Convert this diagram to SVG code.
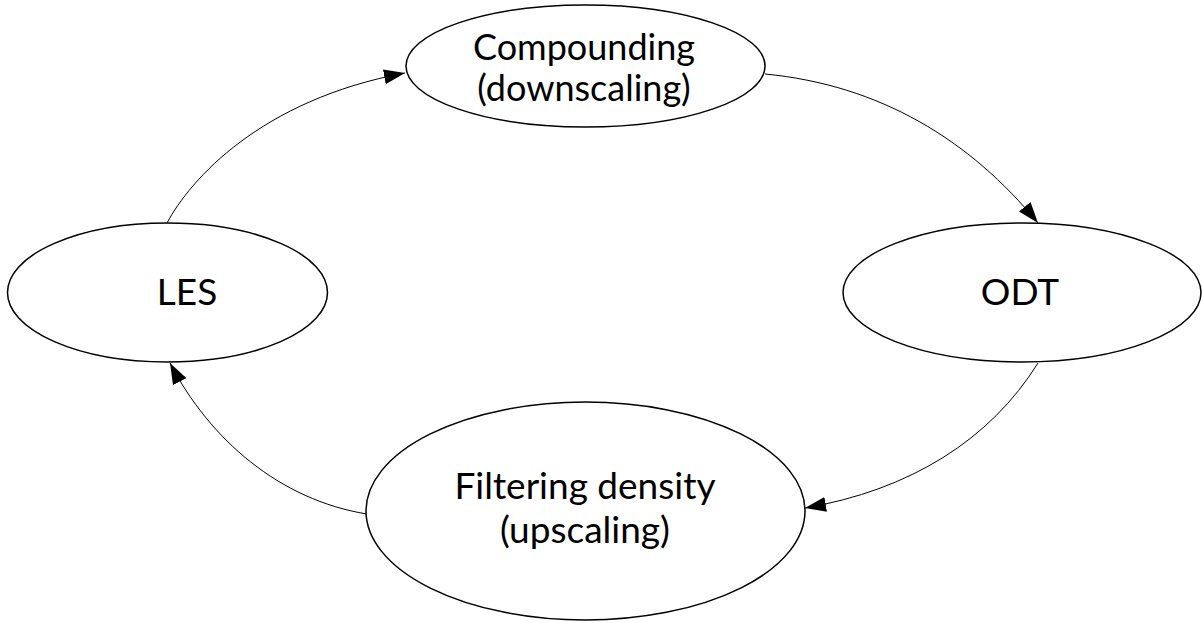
<svg xmlns="http://www.w3.org/2000/svg" width="1202" height="623" viewBox="0 0 1202 623">
  <style>
    .node ellipse { fill: #ffffff; stroke: #000000; stroke-width: 1.5; }
    .node text { font-family: Lato, "Open Sans", "Liberation Sans", sans-serif; font-size: 37px; fill: #000000; text-anchor: middle; }
    #node-compounding text { font-size: 36px; }
    .edge { fill: none; stroke: #000000; stroke-width: 1; marker-end: url(#arrow); }
  </style>
  <defs>
    <marker id="arrow" markerUnits="userSpaceOnUse" markerWidth="21" markerHeight="15" refX="21" refY="7.5" orient="auto" viewBox="0 0 21 15">
      <path d="M0,0 L21,7.5 L0,15 Z" fill="#000000"/>
    </marker>
  </defs>
  <rect width="1202" height="623" fill="#ffffff"/>

  <!-- connectors -->
  <g id="connectors">
    <path class="edge" d="M167,223 C190,180 260,100 405,73"/>
    <path class="edge" d="M765,74 C880,85 970,140 1038,223"/>
    <path class="edge" d="M1038,363 C990,440 910,490 805,508"/>
    <path class="edge" d="M367,514 C280,500 210,440 170,363"/>
  </g>

  <g id="node-compounding" class="node">
    <ellipse cx="585.5" cy="66" rx="179.5" ry="61"/>
    <text x="584" y="60">Compounding</text>
    <text x="584" y="101">(downscaling)</text>
  </g>

  <g id="node-les" class="node">
    <ellipse cx="167.5" cy="292.5" rx="160" ry="69.5"/>
    <text x="187" y="305">LES</text>
  </g>

  <g id="node-odt" class="node">
    <ellipse cx="1022" cy="292.5" rx="179" ry="69.5"/>
    <text x="1020" y="305">ODT</text>
  </g>

  <g id="node-filtering" class="node">
    <ellipse cx="585.5" cy="511" rx="219.5" ry="109"/>
    <text x="585" y="499">Filtering density</text>
    <text x="585" y="543">(upscaling)</text>
  </g>
</svg>
